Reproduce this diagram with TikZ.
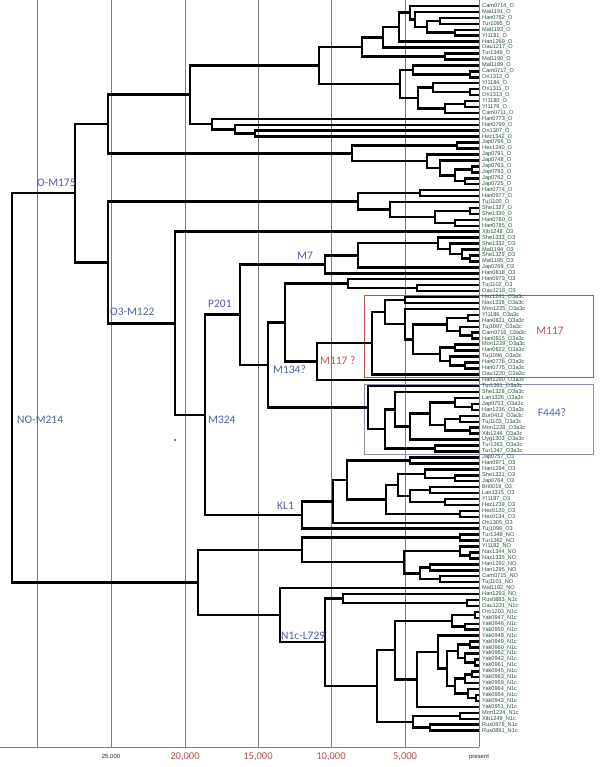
\documentclass[tikz,border=0pt]{standalone}
\usepackage{fontspec}
\newfontfamily\leaffont{Liberation Sans}
\newfontfamily\calfont{Carlito}
\usetikzlibrary{calc}
\definecolor{leafc}{RGB}{40,80,55}
\definecolor{cladec}{RGB}{80,95,160}
\definecolor{redc}{RGB}{192,80,77}
\definecolor{gridc}{RGB}{125,125,125}
\definecolor{boxb}{RGB}{140,145,170}
\tikzset{
  br/.style={line width=2.5pt,black,line join=miter},
  gridl/.style={gridc,line width=0.8pt},
  leaf/.style={anchor=west,inner sep=0pt,text=leafc,font=\leaffont\fontsize{5.6}{6}\selectfont},
  cladel/.style={anchor=west,inner sep=0pt,text=cladec,font=\calfont\fontsize{11.5}{13}\selectfont},
  redl/.style={anchor=west,inner sep=0pt,text=redc,font=\calfont\fontsize{11.5}{13}\selectfont},
  axr/.style={inner sep=0pt,text=redc,font=\calfont\fontsize{10.5}{12}\selectfont},
  axk/.style={inner sep=0pt,text=black!85,font=\leaffont\fontsize{6}{7}\selectfont},
}
\newcommand\cl[4]{%
  \path let \p1=(#3), \p2=(#4) in coordinate (#1) at (#2pt,{0.5*(\y1)+0.5*(\y2)});%
  \draw[br] (#1) |- (#3);%
  \draw[br] (#1) |- (#4);%
}
\begin{document}
\begin{tikzpicture}[x=1pt,y=-1pt]
\useasboundingbox (0,0) rectangle (600,767);
% grid and axis
\foreach \gx [count=\k] in {37,111,185,258,331,405,479}{
  \coordinate (gt\k) at (\gx,0);
  \coordinate (gb\k) at (\gx,747);
  \draw[gridl] (gt\k) -- (gb\k);
}
\coordinate (ax0) at (0,747);
\draw[gridl] (ax0) -- (gb7);
\node[axk] (a25) at (111,757) {25,000};
\node[axr] (a20) at (185,757) {20,000};
\node[axr] (a15) at (258,757) {15,000};
\node[axr] (a10) at (331,757) {10,000};
\node[axr] (a5) at (405,757) {5,000};
\node[axk] (a0) at (479,757) {present};
% boxes
\draw[redc,line width=0.7pt] (364,295) rectangle (593,377);
\draw[boxb,line width=0.7pt] (364,384) rectangle (593,454);
\node[text=redc,font=\calfont\fontsize{11.5}{13}\selectfont,inner sep=0pt] (m117) at (550,331) {M117};
\node[text=cladec,font=\calfont\fontsize{11.5}{13}\selectfont,inner sep=0pt] (f444) at (552,413) {F444?};
% leaves
\foreach \n [count=\i] in {Cam0714\_O,Mal1191\_O,Han0762\_O,Tur1095\_O,Mal1193\_O,YI1181\_O,Han1269\_O,Oau1217\_O,Tur1349\_O,Mal1190\_O,
Mal1189\_O,Cam0717\_O,Ori1312\_O,YI1184\_O,Ori1311\_O,Ori1313\_O,YI1180\_O,YI1179\_O,Cam0711\_O,Han0773\_O,
Han0799\_O,Ori1307\_O,Hez1342\_O,Jap0766\_O,Hez1240\_O,Jap0791\_O,Jap0748\_O,Jap0763\_O,Jap0793\_O,Jap0762\_O,
Jap0725\_O,Han0774\_O,Han0977\_O,Tuj1100\_O,She1327\_O,She1330\_O,Han0780\_O,Han0785\_O,Xib1248\_O3,She1333\_O3,
She1332\_O3,Mal1194\_O3,She1329\_O3,Mal1195\_O3,Jap0769\_O3,Han0818\_O3,Han0973\_O3,Tuj1102\_O3,Oau1216\_O3,Hez1241\_O3a3c,
Nax1338\_O3a3c,Mon1225\_O3a3c,YI1186\_O3a3c,Han0821\_O3a3c,Tuj1097\_O3a3c,Cam0716\_O3a3c,Han0815\_O3a3c,Mon1229\_O3a3c,Han0822\_O3a3c,Tuj1096\_O3a3c,
Han0776\_O3a3c,Han0775\_O3a3c,Oau1220\_O3a3c,Han1290\_O3a3c,Tur1361\_O3a3c,She1328\_O3a3c,Lan1326\_O3a3c,Jap0753\_O3a3c,Han1236\_O3a3c,Bur0412\_O3a3c,
Tuj1103\_O3a3c,Mon1228\_O3a3c,Xib1246\_O3a3c,Uyg1303\_O3a3c,Tur1363\_O3a3c,Tur1347\_O3a3c,Jap0757\_O3,Han0971\_O3,Han1294\_O3,She1331\_O3,
Jap0764\_O3,Bri0019\_O3,Lan1315\_O3,YI1187\_O3,Hez1239\_O3,Hez0120\_O3,Hez0134\_O3,Ori1305\_O3,Tuj1099\_O3,Tur1348\_NO,
Tur1362\_NO,YI1182\_NO,Nax1344\_NO,Nax1335\_NO,Han1292\_NO,Han1295\_NO,Cam0715\_NO,Tuj1101\_NO,Mal1192\_NO,Han1293\_NO,
Rus0883\_N1c,Oau1221\_N1c,Oro1203\_N1c,Yak0947\_N1c,Yak0946\_N1c,Yak0950\_N1c,Yak0948\_N1c,Yak0949\_N1c,Yak0960\_N1c,Yak0962\_N1c,
Yak0942\_N1c,Yak0961\_N1c,Yak0945\_N1c,Yak0963\_N1c,Yak0959\_N1c,Yak0964\_N1c,Yak0954\_N1c,Yak0943\_N1c,Yak0951\_N1c,Mon1224\_N1c,
Xib1249\_N1c,Rus0878\_N1c,Rus0891\_N1c}{
  \coordinate (L\i) at (479,{6+(\i-1)*5.94});
  \node[leaf] (T\i) at (482,{6+(\i-1)*5.94}) {\n};
}
% ---- O* ----
\cl{E4}{440}{L3}{L4}
\cl{E5}{455}{L5}{L6}
\cl{E3}{427}{E4}{E5}
\cl{E2}{415}{L2}{E3}
\cl{E}{410}{L1}{E2}
\cl{D}{399}{E}{L7}
\cl{C}{383}{D}{L8}
\cl{Ep}{445}{L9}{L10}
\cl{B}{362}{C}{Ep}
\cl{Na1}{470}{L12}{L13}
\cl{Na}{413}{L11}{Na1}
\cl{Nb1}{470}{L15}{L16}
\cl{Nb2}{433}{L14}{Nb1}
\cl{Nb3}{465}{L17}{L18}
\cl{Nb4}{445}{Nb3}{L19}
\cl{Nb}{418}{Nb2}{Nb4}
\cl{N87}{400}{Na}{Nb}
\cl{A}{319}{B}{N87}
\cl{G3}{255}{L22}{L23}
\cl{G2}{235}{L21}{G3}
\cl{G1}{212}{L20}{G2}
\cl{N190}{190}{A}{G1}
\cl{T1}{457}{L24}{L25}
\cl{T5}{472}{L28}{L29}
\cl{T6}{465}{L30}{L31}
\cl{T4}{455}{T5}{T6}
\cl{T3}{440}{L27}{T4}
\cl{T2}{427}{L26}{T3}
\cl{P}{352}{T1}{T2}
\cl{N108a}{108}{N190}{P}
\cl{Q1}{420}{L32}{L33}
\cl{Q4}{470}{L35}{L36}
\cl{Q5}{455}{L37}{L38}
\cl{Q3}{435}{Q4}{Q5}
\cl{Q2}{390}{L34}{Q3}
\cl{Q}{358}{Q1}{Q2}
% ---- O3 ----
\cl{M478}{470}{L43}{L44}
\cl{M465}{462}{L42}{M478}
\cl{M450}{450}{L41}{M465}
\cl{M438}{438}{L40}{M450}
\cl{M358}{358}{M438}{L45}
\cl{M7}{325}{M358}{L46}
\cl{N417}{417}{L48}{L49}
\cl{N348}{348}{L47}{N417}
\cl{N405a}{405}{L50}{L51}
\cl{N470}{468}{L53}{L54}
\cl{N472}{472}{L56}{L57}
\cl{N460}{460}{L55}{N472}
\cl{N447}{447}{N470}{N460}
\cl{N455}{455}{L58}{L59}
\cl{N465}{465}{L61}{L62}
\cl{N450}{450}{L60}{N465}
\cl{N440}{440}{N455}{N450}
\cl{N413}{413}{N447}{N440}
\cl{N405b}{405}{L52}{N413}
\cl{N385}{385}{N405a}{N405b}
\cl{M117c}{372}{N385}{L63}
\cl{M117q}{317}{M117c}{L64}
\cl{X285}{285}{N348}{M117q}
\cl{F6b}{472}{L68}{L69}
\cl{F6}{455}{L67}{F6b}
\cl{F7a}{460}{L70}{L71}
\cl{F7b}{470}{L72}{L73}
\cl{F7}{445}{F7a}{F7b}
\cl{F4}{430}{F6}{F7}
\cl{F3}{410}{F4}{L74}
\cl{F2}{395}{L66}{F3}
\cl{F5}{435}{L75}{L76}
\cl{F1}{385}{F2}{F5}
\cl{F444}{368}{L65}{F1}
\cl{M134}{268}{X285}{F444}
\cl{P201}{240}{M7}{M134}
\cl{K3}{410}{L77}{L78}
\cl{K9}{455}{L80}{L81}
\cl{K7}{425}{L79}{K9}
\cl{K10}{430}{L82}{L83}
\cl{K11}{445}{L84}{L85}
\cl{K8}{410}{K10}{K11}
\cl{K5}{398}{K7}{K8}
\cl{K6}{460}{L86}{L87}
\cl{K4}{386}{K5}{K6}
\cl{K2}{347}{K3}{K4}
\cl{K1}{333}{K2}{L88}
\cl{KL1}{302}{K1}{L89}
\cl{M324}{205}{P201}{KL1}
\cl{O3}{175}{L39}{M324}
\cl{N108b}{108}{Q}{O3}
\cl{OM175}{75}{N108a}{N108b}
% ---- NO ----
\cl{NOa}{460}{L90}{L91}
\cl{NOc1}{470}{L93}{L94}
\cl{NOc}{460}{L92}{NOc1}
\cl{NOd1}{430}{L95}{L96}
\cl{NOd2}{440}{L97}{L98}
\cl{NOd}{420}{NOd1}{NOd2}
\cl{NOb}{404}{NOc}{NOd}
\cl{N302}{302}{NOa}{NOb}
\cl{N467}{467}{L101}{L102}
\cl{N343}{343}{L100}{N467}
\cl{N475}{475}{L103}{L104}
\cl{N465n}{465}{L105}{L106}
\cl{N452}{452}{N475}{N465n}
\cl{N470a}{470}{L108}{L109}
\cl{N475b}{475}{L111}{L112}
\cl{N468}{465}{L110}{N475b}
\cl{N460a}{458}{N470a}{N468}
\cl{N472n}{472}{L113}{L114}
\cl{N465a}{465}{N472n}{L115}
\cl{N476}{476}{L117}{L118}
\cl{N470c}{468}{L116}{N476}
\cl{N455a}{455}{N465a}{N470c}
\cl{N447n}{447}{N460a}{N455a}
\cl{N438}{438}{L107}{N447n}
\cl{N417n}{417}{N438}{L119}
\cl{N395}{395}{N452}{N417n}
\cl{N460n}{460}{L120}{L121}
\cl{N430n}{430}{L122}{L123}
\cl{N413n}{413}{N460n}{N430n}
\cl{N377}{377}{N395}{N413n}
\cl{N1c}{325}{N343}{N377}
\cl{N280}{280}{L99}{N1c}
\cl{NO}{198}{N302}{N280}
\cl{root}{12}{OM175}{NO}
% clade labels
\node[cladel] (lOM) at (37,183) {O-M175};
\node[cladel] (lNO) at (17,420) {NO-M214};
\node[cladel] (lO3) at (110,312) {O3-M122};
\node[cladel] (lP) at (208,304) {P201};
\node[cladel] (lM324) at (208,420) {M324};
\node[cladel] (lM7) at (297,256) {M7};
\node[cladel] (lM134) at (273,370) {M134?};
\node[redl] (lM117) at (320,361) {M117 ?};
\node[cladel] (lKL1) at (277,506) {KL1};
\node[cladel] (lN1c) at (281,636) {N1c-L729};
\fill (175,440) circle (0.8);
\end{tikzpicture}
\end{document}
